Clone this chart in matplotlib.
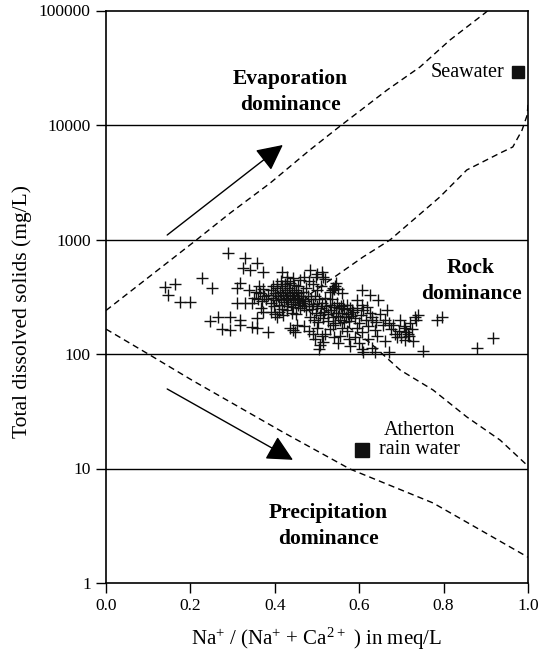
import matplotlib
matplotlib.use("Agg")
import matplotlib.pyplot as plt

plt.rcParams['font.family'] = ['Liberation Serif', 'DejaVu Serif']
plt.rcParams['mathtext.fontset'] = 'custom'
plt.rcParams['mathtext.rm'] = 'Liberation Serif'

# ---- Gibbs boundary curves ----
evap_left_x = [0.0, 0.211, 0.294, 0.389, 0.483, 0.555, 0.666, 0.744, 0.815, 0.898, 0.905]
evap_left_y = [240, 970, 1700, 3110, 6050, 9800, 20200, 32100, 55200, 95000, 100000]

rock_right_x = [1.0, 0.998, 0.986, 0.964, 0.934, 0.855, 0.791, 0.673, 0.609, 0.538, 0.473,
                0.55, 0.626, 0.697, 0.775, 0.855, 0.934, 1.0]
rock_right_y = [15000, 12200, 9040, 6430, 5690, 4050, 2350, 991, 703, 461, 313,
                200, 125, 72.5, 48.5, 28.2, 17.7, 10.5]

precip_x = [0.0, 0.104, 0.204, 0.419, 0.578, 0.775, 1.0]
precip_y = [165, 98, 59, 20.8, 9.9, 5.0, 1.68]

grid_levels = [10, 100, 1000, 10000]

# ---- sample data (Na/(Na+Ca), TDS) ----
sample_x = [
    0.140, 0.164, 0.147, 0.175, 0.199, 0.227, 0.251, 0.289, 0.329, 0.358, 0.246, 0.265, 0.275,
    0.294, 0.318, 0.318, 0.346, 0.358, 0.384, 0.358, 0.294, 0.310, 0.329, 0.310, 0.318, 0.338,
    0.341, 0.325, 0.372, 0.417, 0.429, 0.443, 0.436, 0.448, 0.405, 0.372,
    0.483, 0.512, 0.497, 0.538, 0.535, 0.542, 0.540, 0.607, 0.626, 0.645, 0.666, 0.618, 0.607,
    0.595, 0.562, 0.583, 0.630, 0.656, 0.637, 0.642, 0.595, 0.607, 0.578, 0.607, 0.630, 0.637,
    0.680, 0.697, 0.709, 0.716, 0.720, 0.732, 0.739, 0.690, 0.709, 0.784, 0.796, 0.751, 0.879,
    0.917, 0.512, 0.507, 0.514, 0.555, 0.559, 0.538, 0.453, 0.443,
    0.380, 0.385, 0.390, 0.392, 0.395, 0.398, 0.400, 0.402, 0.405, 0.407, 0.410, 0.412, 0.414,
    0.416, 0.418, 0.420, 0.422, 0.424, 0.426, 0.428, 0.430, 0.432, 0.434, 0.436, 0.438, 0.440,
    0.442, 0.444, 0.446, 0.448, 0.450, 0.452, 0.454, 0.456, 0.458, 0.460, 0.462, 0.464, 0.466,
    0.468, 0.470,
    0.395, 0.405, 0.415, 0.425, 0.435, 0.445, 0.455, 0.390, 0.400, 0.410, 0.420, 0.430, 0.440,
    0.450, 0.360, 0.365, 0.370, 0.372, 0.375, 0.362, 0.368, 0.355, 0.350, 0.345,
    0.472, 0.475, 0.478, 0.480, 0.483, 0.485, 0.488, 0.490, 0.493, 0.495, 0.497, 0.500, 0.502,
    0.505, 0.507, 0.510, 0.512, 0.515, 0.517, 0.520, 0.522, 0.525, 0.527, 0.530, 0.533, 0.535,
    0.538, 0.540, 0.543, 0.545, 0.548, 0.550, 0.553, 0.555, 0.558, 0.560, 0.563, 0.565, 0.568,
    0.570, 0.573, 0.575, 0.578, 0.580,
    0.585, 0.590, 0.595, 0.600, 0.605, 0.610, 0.615, 0.620, 0.625, 0.630, 0.640, 0.650, 0.660,
    0.670, 0.675, 0.685, 0.695, 0.700, 0.705, 0.712, 0.718, 0.725, 0.728, 0.735,
    0.470, 0.480, 0.490, 0.495, 0.500, 0.505, 0.520, 0.530, 0.540, 0.550, 0.570, 0.575, 0.590,
    0.600, 0.620, 0.660, 0.670, 0.610,
    0.475, 0.490, 0.500, 0.510, 0.520, 0.530, 0.545, 0.550, 0.560, 0.470, 0.480, 0.460, 0.430,
    0.500, 0.515,
]
sample_tds = [
    385, 410, 330, 285, 285, 460, 375, 760, 690, 625, 195, 210, 165,
    162, 200, 178, 172, 169, 156, 205, 210, 279, 279, 377, 417, 362,
    542, 560, 520, 520, 434, 461, 169, 156, 210, 233,
    542, 520, 470, 377, 362, 390, 370, 362, 328, 296, 242, 257, 268,
    296, 268, 242, 198, 179, 162, 144, 169, 156, 118, 110, 112, 105,
    179, 198, 169, 150, 185, 210, 219, 142, 133, 198, 210, 106, 112,
    138, 144, 120, 127, 144, 169, 179, 179, 162,
    300, 330, 280, 360, 310, 260, 340, 295, 375, 320, 270, 350, 300,
    245, 390, 330, 285, 360, 310, 265, 340, 295, 380, 320, 275, 350,
    300, 255, 330, 285, 365, 310, 270, 340, 295, 250, 320, 280, 350,
    300, 260,
    395, 410, 430, 405, 415, 400, 390, 235, 225, 235, 220, 240, 230,
    225, 300, 340, 290, 370, 320, 395, 250, 350, 310, 280,
    290, 240, 320, 260, 210, 300, 245, 275, 200, 320, 230, 265, 190,
    300, 220, 250, 280, 205, 235, 310, 260, 195, 225, 270, 240, 300,
    210, 255, 185, 230, 280, 215, 250, 200, 265, 230, 190, 245, 210,
    270, 225, 195, 250, 215,
    235, 205, 250, 185, 220, 240, 200, 175, 230, 210, 190, 225, 200,
    185, 165, 150, 160, 140, 175, 155, 145, 165, 130, 200,
    175, 160, 150, 135, 170, 110, 150, 165, 140, 125, 160, 135, 140,
    125, 135, 130, 105, 105,
    380, 410, 360, 390, 450, 350, 420, 370, 340, 470, 430, 440, 470,
    500, 470,
]

seawater = (0.976, 29000)
rainwater = (0.607, 14.5)

fig = plt.figure(figsize=(5.45, 6.52), dpi=100)
ax = fig.add_axes([106 / 545, (652 - 583) / 652, 422 / 545, (583 - 10.5) / 652])
ax.set_yscale('log')
ax.set_xlim(0, 1)
ax.set_ylim(1, 100000)

for g in grid_levels:
    ax.axhline(g, color='black', lw=1.0, zorder=1)

dash = (0, (4.5, 3))
ax.plot(evap_left_x, evap_left_y, color='black', lw=1.0, ls=dash, zorder=2)
ax.plot(rock_right_x, rock_right_y, color='black', lw=1.0, ls=dash, zorder=2)
ax.plot(precip_x, precip_y, color='black', lw=1.0, ls=dash, zorder=2)

ax.plot(sample_x, sample_tds, '+', color='#111111', ms=9, mew=1.0, zorder=3)

ax.plot(*seawater, 's', color='#111111', ms=9, zorder=4)
ax.plot(*rainwater, 's', color='#111111', ms=9.5, zorder=4)

arrow_kw = dict(arrowstyle='-|>,head_length=0.8,head_width=0.4', lw=1.0,
                color='black', mutation_scale=20, shrinkA=0, shrinkB=0)
ax.annotate('', xy=(0.419, 6690), xytext=(0.145, 1094), arrowprops=arrow_kw)
ax.annotate('', xy=(0.443, 11.9), xytext=(0.145, 49.5), arrowprops=arrow_kw)

bold = dict(fontsize=15.5, fontweight='bold', ha='center', va='center', linespacing=1.35)
ax.text(0.436, 19400, 'Evaporation\ndominance', **bold)
ax.text(0.865, 434, 'Rock\ndominance', **bold)
ax.text(0.526, 3.15, 'Precipitation\ndominance', **bold)

ax.text(0.945, 29000, 'Seawater', fontsize=14.5, ha='right', va='center')
ax.text(0.742, 17.7, 'Atherton\nrain water', fontsize=14.5, ha='center', va='center',
        multialignment='center', linespacing=1.0)

ax.set_xticks([0.0, 0.2, 0.4, 0.6, 0.8, 1.0])
ax.set_xticklabels(['0.0', '0.2', '0.4', '0.6', '0.8', '1.0'])
yt = [1, 10, 100, 1000, 10000, 100000]
ax.set_yticks(yt)
ax.set_yticklabels([str(v) for v in yt])
ax.minorticks_off()
ax.tick_params(direction='out', length=7, width=1.0, labelsize=12.5, pad=4, colors='black')

for s in ax.spines.values():
    s.set_linewidth(1.2)

ax.set_xlabel(r'Na$\mathregular{^{+}}$ / (Na$\mathregular{^{+}}$ + Ca$\mathregular{^{2+}}$ ) in meq/L',
              fontsize=15)
ax.xaxis.set_label_coords(0.5, -0.075)
ax.set_ylabel('Total dissolved solids (mg/L)', fontsize=15.5)
ax.yaxis.set_label_coords(-0.175, 0.475)

fig.savefig('out.png', dpi=100)
